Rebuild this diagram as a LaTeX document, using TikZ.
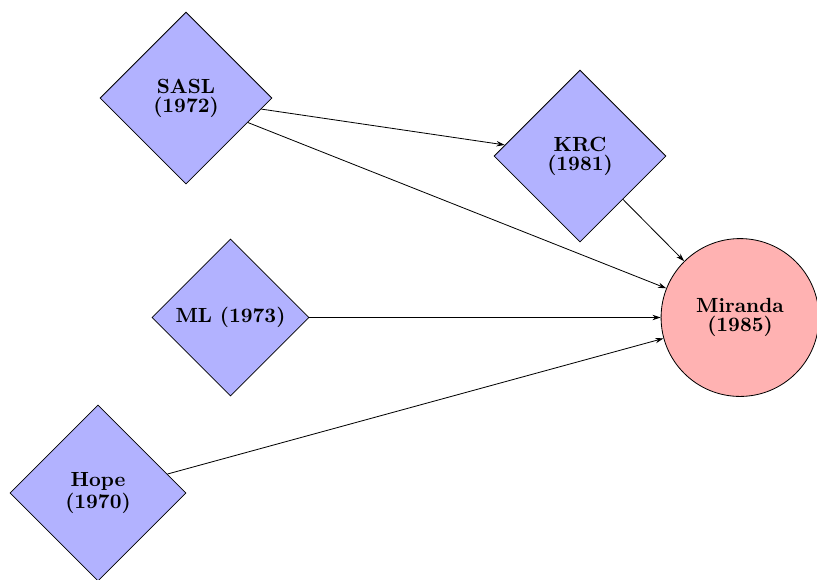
\documentclass[tikz,border=0pt]{standalone}
\usetikzlibrary{shapes.geometric,arrows.meta}
\begin{document}
\begin{tikzpicture}[x=0.4878pt,y=-0.4878pt,
  lang/.style={diamond,draw,fill=blue!30,aspect=1,inner sep=0pt,align=center,
    font=\bfseries\fontsize{10}{9.3}\selectfont},
  target/.style={circle,draw,fill=red!30,inner sep=0pt,align=center,
    font=\bfseries\fontsize{10}{9.3}\selectfont},
  link/.style={-{Stealth[length=4pt,width=2.6pt]},line width=0.4pt}]
\useasboundingbox (0,0) rectangle (817,579);
\node[lang,minimum size=83.9pt] (sasl) at (186,98) {SASL\\(1972)};
\node[lang,minimum size=83.9pt] (krc) at (580,156) {KRC\\(1981)};
\node[lang,minimum size=76.6pt] (ml) at (230.5,317.5) {ML (1973)};
\node[lang,minimum size=85.9pt] (hope) at (98,493) {Hope\\(1970)};
\node[target,minimum size=77pt] (mir) at (740,317.5) {Miranda\\(1985)};
\draw[link] (sasl) -- (krc);
\draw[link] (sasl) -- (mir);
\draw[link] (krc) -- (mir);
\draw[link] (ml) -- (mir);
\draw[link] (hope) -- (mir);
\end{tikzpicture}
\end{document}
